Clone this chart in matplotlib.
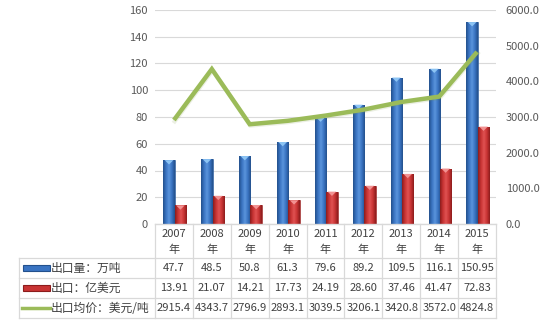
import numpy as np
import matplotlib
matplotlib.use("Agg")
import matplotlib.pyplot as plt
from matplotlib.patches import Polygon, Rectangle
from matplotlib.lines import Line2D

plt.rcParams['font.family'] = ['Noto Sans CJK SC', 'DejaVu Sans']

years = ["2007", "2008", "2009", "2010", "2011", "2012", "2013", "2014", "2015"]
volume = [47.7, 48.5, 50.8, 61.3, 79.6, 89.2, 109.5, 116.1, 150.95]
value = [13.91, 21.07, 14.21, 17.73, 24.19, 28.60, 37.46, 41.47, 72.83]
price = [2915.4, 4343.7, 2796.9, 2893.1, 3039.5, 3206.1, 3420.8, 3572.0, 4824.8]
volume_txt = ["47.7", "48.5", "50.8", "61.3", "79.6", "89.2", "109.5", "116.1", "150.95"]
value_txt = ["13.91", "21.07", "14.21", "17.73", "24.19", "28.60", "37.46", "41.47", "72.83"]
price_txt = ["2915.4", "4343.7", "2796.9", "2893.1", "3039.5", "3206.1", "3420.8", "3572.0", "4824.8"]
row_labels = ["出口量：万吨", "出口：亿美元", "出口均价：美元/吨"]

W, H = 546, 324
GRID = "#d9d9d9"
TXT = "#404040"
TICK = "#595959"
GREEN = "#9bbb59"

fig = plt.figure(figsize=(W / 100, H / 100), dpi=100)

# plot area in pixels
px0, px1, py0, py1 = 155, 496, 10, 224
ax = fig.add_axes([px0 / W, 1 - py1 / H, (px1 - px0) / W, (py1 - py0) / H])
ax2 = ax.twinx()

x = np.arange(len(years))
bw = 0.3


def shaded_bars(xpos, heights, dark, mid, light, cap):
    cmap = matplotlib.colors.LinearSegmentedColormap.from_list(
        "g", [dark, mid, light, mid, dark])
    grad = np.linspace(0, 1, 64).reshape(1, -1)
    bars = ax.bar(xpos, heights, width=bw, color=mid, edgecolor=dark,
                  linewidth=0.4, zorder=2)
    for b in bars:
        x0, w, h = b.get_x(), b.get_width(), b.get_height()
        im = ax.imshow(grad, extent=[x0, x0 + w, 0, h], aspect="auto",
                       cmap=cmap, zorder=2.1)
        im.set_clip_path(b)
        d = 3.2
        ax.add_patch(Polygon([[x0 + 0.12 * w, h], [x0 + 0.88 * w, h],
                              [x0 + w / 2, h - d]], closed=True,
                             facecolor=cap, edgecolor="none", zorder=2.2))
    return bars


shaded_bars(x - 0.13, volume, "#23508c", "#3a74c2", "#5a94dc", "#8cc4f4")
shaded_bars(x + 0.17, value, "#8c1c1c", "#c83434", "#e05252", "#f29292")

ax.set_xlim(-0.5, len(years) - 0.5)
ax.set_ylim(0, 160)
ax.set_yticks(np.arange(0, 161, 20))
ax.set_xticks([])
ax.grid(axis="y", color=GRID, linewidth=0.8, zorder=0)
ax.set_axisbelow(True)
ax.tick_params(axis="y", length=0, pad=5, labelsize=8, labelcolor=TICK)
for s in ["top", "left", "right"]:
    ax.spines[s].set_visible(False)
ax.spines["bottom"].set_color(GRID)

# faint shadow under the price line
ax2.plot(x, price, color="#7f9a45", linewidth=3.0, alpha=0.15,
         solid_joinstyle="miter", zorder=3,
         transform=ax2.transData + matplotlib.transforms.ScaledTranslation(
             0.5 / 72, -1 / 72, fig.dpi_scale_trans))
ax2.plot(x, price, color=GREEN, linewidth=3.2, solid_joinstyle="miter",
         solid_capstyle="butt", zorder=4)
ax2.set_ylim(0, 6000)
ax2.set_yticks(np.arange(0, 6001, 1000))
ax2.set_yticklabels([f"{v:.1f}" for v in np.arange(0, 6001, 1000)])
ax2.tick_params(axis="y", length=0, pad=7, labelsize=8, labelcolor=TICK)
for s in ax2.spines.values():
    s.set_visible(False)


# data table below the plot, drawn in pixel coordinates
def fx(px):
    return px / W


def fy(py):
    return 1 - py / H


col_edges = np.linspace(px0, px1, len(years) + 1)
tl = 19
row_edges = [224, 258, 278, 298, 318]

def hline(xa, xb, y):
    fig.add_artist(Line2D([fx(xa), fx(xb)], [fy(y), fy(y)], color=GRID,
                          linewidth=0.9))

def vline(xp, ya, yb):
    fig.add_artist(Line2D([fx(xp), fx(xp)], [fy(ya), fy(yb)], color=GRID,
                          linewidth=0.9))

for i, y in enumerate(row_edges):
    hline(tl if i > 0 else px0, px1, y)
for c in col_edges:
    vline(c, row_edges[0], row_edges[-1])
vline(tl, row_edges[1], row_edges[-1])

centers = (col_edges[:-1] + col_edges[1:]) / 2
for cx, yr in zip(centers, years):
    fig.text(fx(cx), fy(234), yr, ha="center", va="center", fontsize=8,
             color=TXT)
    fig.text(fx(cx), fy(250), "年", ha="center", va="center", fontsize=8,
             color=TXT)

rows = [volume_txt, value_txt, price_txt]
for r, vals in enumerate(rows):
    cy = (row_edges[r + 1] + row_edges[r + 2]) / 2
    for cx, v in zip(centers, vals):
        fig.text(fx(cx), fy(cy), v, ha="center", va="center", fontsize=8,
                 color=TXT)
    fig.text(fx(51), fy(cy), row_labels[r], ha="left", va="center",
             fontsize=8.5, color=TXT)

# legend keys inside the row label cells
key_styles = [("#3a74c2", "#23508c"), ("#c83434", "#8c1c1c")]
for r, (fc, ec) in enumerate(key_styles):
    cy = (row_edges[r + 1] + row_edges[r + 2]) / 2
    fig.add_artist(Rectangle((fx(23), fy(cy + 3)), fx(50) - fx(23),
                             fy(cy - 3) - fy(cy + 3), facecolor=fc,
                             edgecolor=ec, linewidth=0.8))
cy = (row_edges[3] + row_edges[4]) / 2
fig.add_artist(Line2D([fx(22), fx(50)], [fy(cy), fy(cy)], color=GREEN,
                      linewidth=2.5))

fig.savefig("out.png", dpi=100)
